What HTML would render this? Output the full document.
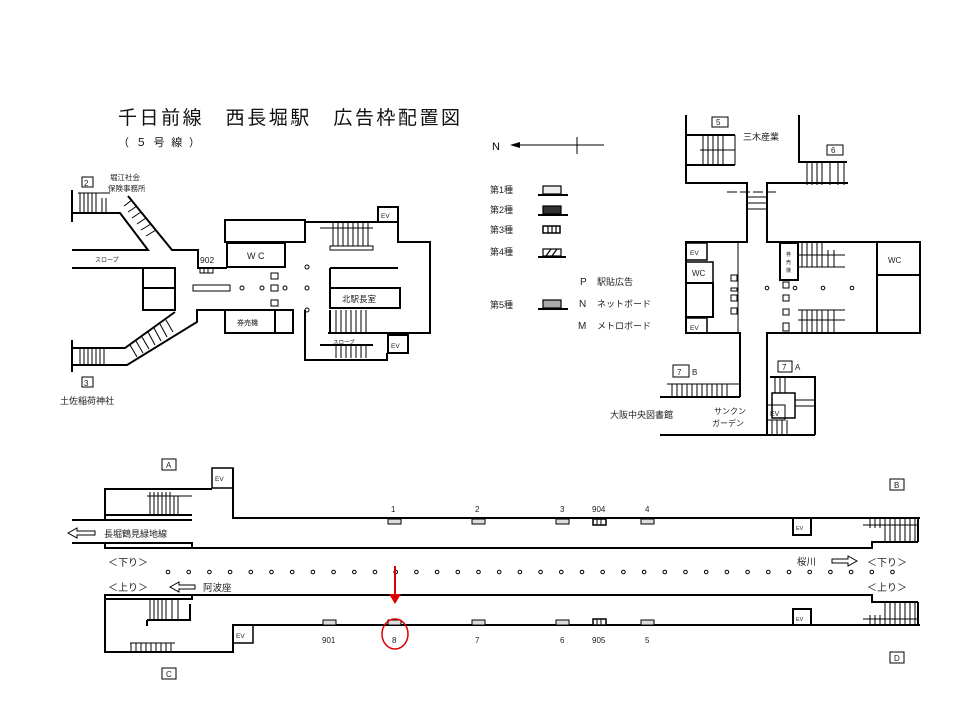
<!DOCTYPE html>
<html><head><meta charset="utf-8"><style>
html,body{margin:0;padding:0;background:#fff;}
svg{display:block;font-family:"Liberation Sans","Noto Sans CJK JP",sans-serif;}
</style></head><body>
<svg width="960" height="720" viewBox="0 0 960 720" xmlns="http://www.w3.org/2000/svg">
<rect width="960" height="720" fill="#fff"/>
<!-- Title -->
<text x="118" y="124" font-size="19" fill="#111" textLength="342" lengthAdjust="spacing">千日前線　西長堀駅　広告枠配置図</text>
<text x="118" y="146" font-size="11" fill="#111" textLength="82" lengthAdjust="spacing">（ ５ 号 線 ）</text>

<!-- Legend -->
<g stroke="#000" fill="none">
<line x1="512" y1="145" x2="604" y2="145" stroke-width="1"/>
<line x1="577" y1="137" x2="577" y2="154"/>
</g>
<polygon points="510,145 520,142 520,148" fill="#000"/>
<text x="492" y="150" font-size="11">N</text>
<g font-size="9" fill="#222">
<text x="490" y="193">第1種</text><text x="490" y="213">第2種</text><text x="490" y="233">第3種</text><text x="490" y="255">第4種</text><text x="490" y="308">第5種</text>
<text x="580" y="285" font-size="10">P</text><text x="597" y="285">駅貼広告</text>
<text x="579" y="307" font-size="10">N</text><text x="597" y="307">ネットボード</text>
<text x="578" y="329" font-size="10">M</text><text x="597" y="329">メトロボード</text>
</g>
<g stroke="#000" stroke-width="1.2">
<line x1="538" y1="195" x2="568" y2="195" stroke-width="2"/><rect x="543" y="186" width="18" height="8" fill="#eee"/>
<line x1="538" y1="215" x2="568" y2="215" stroke-width="2"/><rect x="543" y="206" width="18" height="8" fill="#333"/>
<rect x="543" y="226" width="17" height="7" fill="#fff" stroke-width="1.5"/><line x1="548" y1="226" x2="548" y2="233"/><line x1="552" y1="226" x2="552" y2="233"/><line x1="556" y1="226" x2="556" y2="233"/>
<line x1="538" y1="257" x2="566" y2="257" stroke-width="2"/><rect x="543" y="249" width="18" height="7" fill="#fff"/><line x1="546" y1="256" x2="551" y2="249"/><line x1="552" y1="256" x2="557" y2="249"/>
<line x1="538" y1="309" x2="568" y2="309" stroke-width="2"/><rect x="543" y="300" width="18" height="8" fill="#aaa"/>
</g>

<!-- Upper-left station -->
<g stroke="#000" stroke-width="2" fill="none">
<rect x="82" y="177" width="11" height="10" stroke-width="1"/>
<line x1="72" y1="190" x2="72" y2="222"/>
<polyline points="72,213 120,213 148,250 72,250"/>
<polyline points="128,196 172,250 198,250 198,268 227,268"/>
<line x1="72" y1="268" x2="175" y2="268"/>
<rect x="143" y="268" width="32" height="42"/><line x1="143" y1="288" x2="175" y2="288"/>
<polyline points="72,348 125,348 175,312"/>
<polyline points="72,365 127,365 197,322 197,310 227,310"/>
<line x1="72" y1="340" x2="72" y2="372"/>
<rect x="82" y="377" width="11" height="10" stroke-width="1"/>
<rect x="225" y="220" width="80" height="22"/>
<rect x="227" y="243" width="58" height="24"/>
<polyline points="305,220 305,222 378,222"/>
<rect x="378" y="207" width="20" height="15"/>
<polyline points="398,222 398,242 430,242 430,333 328,333"/>
<polyline points="330,268 398,268"/>
<line x1="330" y1="268" x2="330" y2="288"/>
<rect x="330" y="288" width="70" height="20"/>
<rect x="225" y="310" width="68" height="23"/><line x1="275" y1="310" x2="275" y2="333"/>
<polyline points="305,310 305,360 387,360 387,353"/>
<rect x="388" y="335" width="20" height="18"/>
<line x1="320" y1="345" x2="373" y2="345"/>
<line x1="330" y1="333" x2="330" y2="310"/>
</g>
<g stroke="#000" stroke-width="1" fill="none">
<line x1="78" y1="193" x2="110" y2="193"/>
<line x1="80" y1="193" x2="80" y2="213"/><line x1="84" y1="193" x2="84" y2="213"/><line x1="88" y1="193" x2="88" y2="213"/><line x1="92" y1="193" x2="92" y2="213"/><line x1="96" y1="193" x2="96" y2="213"/><line x1="102" y1="198" x2="102" y2="213"/><line x1="106" y1="198" x2="106" y2="213"/>
<line x1="124" y1="206" x2="132" y2="200"/><line x1="128" y1="212" x2="137" y2="206"/><line x1="132" y1="218" x2="141" y2="212"/><line x1="137" y1="224" x2="146" y2="218"/><line x1="141" y1="230" x2="151" y2="224"/><line x1="146" y1="236" x2="156" y2="230"/>
<line x1="80" y1="348" x2="80" y2="365"/><line x1="84" y1="348" x2="84" y2="365"/><line x1="88" y1="348" x2="88" y2="365"/><line x1="92" y1="348" x2="92" y2="365"/><line x1="96" y1="348" x2="96" y2="365"/><line x1="100" y1="348" x2="100" y2="365"/><line x1="104" y1="348" x2="104" y2="365"/>
<line x1="130" y1="345" x2="137" y2="357"/><line x1="136" y1="341" x2="143" y2="353"/><line x1="142" y1="337" x2="149" y2="349"/><line x1="148" y1="332" x2="155" y2="345"/><line x1="154" y1="328" x2="161" y2="341"/><line x1="160" y1="324" x2="167" y2="337"/><line x1="166" y1="320" x2="173" y2="332"/>
<rect x="200" y="268" width="13" height="5"/><line x1="204" y1="268" x2="204" y2="273"/><line x1="208" y1="268" x2="208" y2="273"/>
<rect x="193" y="285" width="37" height="6"/>
<rect x="271" y="273" width="7" height="6"/><rect x="271" y="285" width="7" height="6"/><rect x="271" y="300" width="7" height="6"/>
<circle cx="242" cy="288" r="2"/><circle cx="262" cy="288" r="2"/><circle cx="285" cy="288" r="2"/><circle cx="307" cy="267" r="2"/><circle cx="307" cy="288" r="2"/><circle cx="307" cy="310" r="2"/>
<line x1="320" y1="228" x2="373" y2="228"/><rect x="330" y="246" width="43" height="4"/>
<line x1="333" y1="223" x2="333" y2="246"/><line x1="338" y1="223" x2="338" y2="246"/><line x1="343" y1="223" x2="343" y2="246"/><line x1="348" y1="223" x2="348" y2="246"/><line x1="353" y1="223" x2="353" y2="246"/><line x1="358" y1="223" x2="358" y2="246"/><line x1="363" y1="223" x2="363" y2="246"/><line x1="368" y1="223" x2="368" y2="246"/>
<line x1="336" y1="310" x2="336" y2="333"/><line x1="341" y1="310" x2="341" y2="333"/><line x1="346" y1="310" x2="346" y2="333"/><line x1="351" y1="310" x2="351" y2="333"/><line x1="356" y1="310" x2="356" y2="333"/><line x1="361" y1="310" x2="361" y2="333"/><line x1="366" y1="310" x2="366" y2="333"/>
<line x1="336" y1="346" x2="336" y2="358"/><line x1="341" y1="346" x2="341" y2="358"/><line x1="346" y1="346" x2="346" y2="358"/><line x1="351" y1="346" x2="351" y2="358"/><line x1="356" y1="346" x2="356" y2="358"/><line x1="361" y1="346" x2="361" y2="358"/><line x1="366" y1="346" x2="366" y2="358"/>
</g>
<g font-size="8" fill="#222">
<text x="84" y="186">2</text><text x="84" y="386">3</text>
<text x="110" y="180" font-size="7.5">堀江社会</text><text x="108" y="191" font-size="7.5">保険事務所</text>
<text x="95" y="262" font-size="6">スロープ</text>
<text x="200" y="263" font-size="8.5">902</text>
<text x="247" y="259" font-size="9">W C</text>
<text x="342" y="302" font-size="8.5">北駅長室</text>
<text x="237" y="325" font-size="7">券売機</text>
<text x="381" y="218" font-size="6.5">EV</text><text x="391" y="348" font-size="6.5">EV</text>
<text x="333" y="344" font-size="5.5">スロープ</text>
<text x="60" y="404" font-size="9">土佐稲荷神社</text>
</g>

<!-- Right station -->
<g stroke="#000" stroke-width="2" fill="none">
<polyline points="686,115 686,183 747,183 747,242 686,242 686,333 740,333 740,397"/>
<polyline points="799,115 799,162 847,162"/>
<polyline points="848,183 767,183 767,242 920,242 920,333 767,333 767,435"/>
<line x1="877" y1="242" x2="877" y2="333"/><line x1="877" y1="275" x2="920" y2="275"/>
<line x1="686" y1="135" x2="735" y2="135"/><line x1="686" y1="165" x2="735" y2="165"/>
<rect x="686" y="243" width="21" height="17" stroke-width="1.5"/>
<rect x="686" y="262" width="27" height="21" stroke-width="1.5"/>
<rect x="686" y="283" width="27" height="34"/>
<rect x="686" y="318" width="21" height="15" stroke-width="1.5"/>
<rect x="780" y="243" width="18" height="37"/>
<polyline points="660,397 740,397"/>
<polyline points="770,377 815,377 815,435"/>
<line x1="660" y1="435" x2="815" y2="435"/>
<rect x="772" y="393" width="23" height="25" stroke-width="1.5"/>
</g>
<g stroke="#000" stroke-width="1" fill="none">
<rect x="712" y="117" width="16" height="10"/><rect x="827" y="145" width="16" height="10"/>
<line x1="703" y1="135" x2="703" y2="165"/><line x1="708" y1="135" x2="708" y2="165"/><line x1="713" y1="135" x2="713" y2="165"/><line x1="718" y1="135" x2="718" y2="165"/><line x1="723" y1="135" x2="723" y2="165"/><line x1="735" y1="135" x2="735" y2="165"/><line x1="700" y1="150" x2="735" y2="150"/>
<line x1="807" y1="162" x2="807" y2="185"/><line x1="812" y1="162" x2="812" y2="185"/><line x1="817" y1="162" x2="817" y2="185"/><line x1="822" y1="162" x2="822" y2="185"/><line x1="830" y1="162" x2="830" y2="185"/><line x1="838" y1="162" x2="838" y2="185"/><line x1="844" y1="162" x2="844" y2="185"/>
<line x1="727" y1="192" x2="778" y2="192" stroke-dasharray="10,3"/>
<line x1="747" y1="197" x2="767" y2="197"/><line x1="747" y1="203" x2="767" y2="203"/><line x1="747" y1="209" x2="767" y2="209"/>
<line x1="738" y1="242" x2="738" y2="333"/>
<rect x="731" y="275" width="6" height="6"/><rect x="731" y="288" width="6" height="3"/><rect x="731" y="295" width="6" height="6"/><rect x="731" y="308" width="6" height="6"/>
<rect x="783" y="282" width="6" height="6"/><rect x="783" y="295" width="6" height="6"/><rect x="783" y="309" width="6" height="6"/><rect x="783" y="323" width="6" height="8"/>
<circle cx="767" cy="288" r="1.8"/><circle cx="795" cy="288" r="1.8"/><circle cx="823" cy="288" r="1.8"/><circle cx="852" cy="288" r="1.8"/>
<line x1="798" y1="267" x2="845" y2="267"/><line x1="798" y1="255" x2="845" y2="255"/>
<line x1="802" y1="243" x2="802" y2="267"/><line x1="807" y1="243" x2="807" y2="267"/><line x1="812" y1="243" x2="812" y2="267"/><line x1="817" y1="243" x2="817" y2="267"/><line x1="822" y1="243" x2="822" y2="267"/><line x1="828" y1="250" x2="828" y2="267"/><line x1="834" y1="250" x2="834" y2="267"/>
<line x1="798" y1="310" x2="845" y2="310"/><line x1="798" y1="320" x2="845" y2="320"/>
<line x1="802" y1="310" x2="802" y2="333"/><line x1="807" y1="310" x2="807" y2="333"/><line x1="812" y1="310" x2="812" y2="333"/><line x1="817" y1="310" x2="817" y2="333"/><line x1="822" y1="310" x2="822" y2="333"/><line x1="828" y1="310" x2="828" y2="333"/><line x1="834" y1="310" x2="834" y2="333"/>
<rect x="673" y="365" width="16" height="12"/><rect x="778" y="361" width="14" height="11"/>
<line x1="667" y1="384" x2="740" y2="384"/>
<line x1="672" y1="384" x2="672" y2="397"/><line x1="677" y1="384" x2="677" y2="397"/><line x1="682" y1="384" x2="682" y2="397"/><line x1="687" y1="384" x2="687" y2="397"/><line x1="692" y1="384" x2="692" y2="397"/><line x1="697" y1="384" x2="697" y2="397"/><line x1="702" y1="384" x2="702" y2="397"/><line x1="707" y1="384" x2="707" y2="397"/><line x1="712" y1="384" x2="712" y2="397"/><line x1="717" y1="384" x2="717" y2="397"/><line x1="722" y1="384" x2="722" y2="397"/><line x1="727" y1="384" x2="727" y2="397"/>
<rect x="767" y="405" width="18" height="15"/>
<line x1="775" y1="377" x2="775" y2="393"/><line x1="780" y1="377" x2="780" y2="393"/><line x1="785" y1="377" x2="785" y2="393"/>
<line x1="795" y1="400" x2="815" y2="400"/><line x1="795" y1="406" x2="815" y2="406"/>
<line x1="772" y1="420" x2="772" y2="435"/><line x1="777" y1="420" x2="777" y2="435"/><line x1="782" y1="420" x2="782" y2="435"/><line x1="787" y1="420" x2="787" y2="435"/>
</g>
<g font-size="8" fill="#222">
<text x="716" y="125">5</text><text x="831" y="153">6</text>
<text x="743" y="140" font-size="9">三木産業</text>
<text x="690" y="255" font-size="6.5">EV</text><text x="692" y="276" font-size="8">WC</text><text x="690" y="330" font-size="6.5">EV</text>
<text x="888" y="263" font-size="8">WC</text>
<text x="786" y="256" font-size="5">券</text><text x="786" y="264" font-size="5">売</text><text x="786" y="272" font-size="5">機</text>
<text x="677" y="375">7</text><text x="692" y="375">B</text>
<text x="782" y="370">7</text><text x="795" y="370">A</text>
<text x="770" y="416" font-size="7">EV</text>
<text x="610" y="418" font-size="9">大阪中央図書館</text>
<text x="714" y="414" font-size="8">サンクン</text><text x="712" y="426" font-size="8">ガーデン</text>
</g>

<!-- Bottom platform -->
<g stroke="#000" stroke-width="2" fill="none">
<polyline points="233,468 233,518 920,518"/>
<rect x="212" y="468" width="21" height="20" stroke-width="1.5"/>
<polyline points="212,489 105,489 105,520"/>
<line x1="72" y1="520" x2="192" y2="520"/>
<line x1="105" y1="515" x2="192" y2="515"/>
<rect x="105" y="543" width="87" height="5"/>
<line x1="72" y1="543" x2="105" y2="543"/>
<polyline points="192,548 872,548 872,542 918,542"/>
<polyline points="192,595 872,595 872,602 918,602"/>
<rect x="105" y="595" width="87" height="4"/>
<polyline points="105,599 105,652 233,652 233,625 920,625"/>
<rect x="233" y="625" width="20" height="18" stroke-width="1.5"/>
<polyline points="147,620 190,620 190,604"/>
<line x1="147" y1="620" x2="147" y2="626"/>
<polyline points="793,518 793,535 811,535 811,518"/>
<polyline points="793,625 793,609 811,609 811,625"/>
</g>
<g stroke="#000" stroke-width="1" fill="none">
<rect x="162" y="459" width="14" height="11"/><rect x="162" y="668" width="14" height="11"/>
<rect x="890" y="479" width="14" height="11"/><rect x="890" y="652" width="14" height="11"/>
<line x1="150" y1="492" x2="150" y2="515"/><line x1="154" y1="492" x2="154" y2="515"/><line x1="158" y1="492" x2="158" y2="515"/><line x1="162" y1="492" x2="162" y2="515"/><line x1="166" y1="492" x2="166" y2="515"/><line x1="170" y1="492" x2="170" y2="515"/><line x1="174" y1="496" x2="174" y2="515"/><line x1="178" y1="496" x2="178" y2="515"/><line x1="147" y1="496" x2="192" y2="496"/>
<line x1="150" y1="600" x2="150" y2="620"/><line x1="154" y1="600" x2="154" y2="620"/><line x1="158" y1="600" x2="158" y2="620"/><line x1="162" y1="600" x2="162" y2="620"/><line x1="166" y1="600" x2="166" y2="620"/><line x1="172" y1="600" x2="172" y2="620"/><line x1="178" y1="600" x2="178" y2="620"/>
<line x1="130" y1="643" x2="175" y2="643"/>
<line x1="131" y1="643" x2="131" y2="652"/><line x1="136" y1="643" x2="136" y2="652"/><line x1="141" y1="643" x2="141" y2="652"/><line x1="146" y1="643" x2="146" y2="652"/><line x1="151" y1="643" x2="151" y2="652"/><line x1="156" y1="643" x2="156" y2="652"/><line x1="161" y1="643" x2="161" y2="652"/><line x1="166" y1="643" x2="166" y2="652"/><line x1="171" y1="643" x2="171" y2="652"/>
<line x1="863" y1="525" x2="918" y2="525"/><line x1="863" y1="619" x2="918" y2="619"/>
<g>
<line x1="870" y1="518" x2="870" y2="528"/><line x1="875" y1="518" x2="875" y2="528"/><line x1="880" y1="518" x2="880" y2="528"/><line x1="885" y1="518" x2="885" y2="542"/><line x1="890" y1="518" x2="890" y2="542"/><line x1="895" y1="518" x2="895" y2="542"/><line x1="900" y1="518" x2="900" y2="542"/><line x1="905" y1="518" x2="905" y2="542"/><line x1="910" y1="518" x2="910" y2="542"/><line x1="915" y1="518" x2="915" y2="542"/><line x1="918" y1="518" x2="918" y2="542" stroke-width="2"/>
<line x1="870" y1="615" x2="870" y2="625"/><line x1="875" y1="615" x2="875" y2="625"/><line x1="880" y1="615" x2="880" y2="625"/><line x1="885" y1="602" x2="885" y2="625"/><line x1="890" y1="602" x2="890" y2="625"/><line x1="895" y1="602" x2="895" y2="625"/><line x1="900" y1="602" x2="900" y2="625"/><line x1="905" y1="602" x2="905" y2="625"/><line x1="910" y1="602" x2="910" y2="625"/><line x1="915" y1="602" x2="915" y2="625"/><line x1="918" y1="602" x2="918" y2="625" stroke-width="2"/>
</g>
<!-- ads upper -->
<rect x="388" y="519" width="13" height="5" fill="#ddd"/><rect x="472" y="519" width="13" height="5" fill="#ddd"/><rect x="556" y="519" width="13" height="5" fill="#ddd"/><rect x="641" y="519" width="13" height="5" fill="#ddd"/>
<rect x="593" y="519" width="13" height="6" fill="#fff" stroke-width="1.5"/><line x1="597" y1="519" x2="597" y2="525"/><line x1="601" y1="519" x2="601" y2="525"/>
<!-- ads lower -->
<rect x="323" y="620" width="13" height="5" fill="#ddd"/><rect x="388" y="620" width="13" height="5" fill="#ddd"/><rect x="472" y="620" width="13" height="5" fill="#ddd"/><rect x="556" y="620" width="13" height="5" fill="#ddd"/><rect x="641" y="620" width="13" height="5" fill="#ddd"/>
<rect x="593" y="619" width="13" height="6" fill="#fff" stroke-width="1.5"/><line x1="597" y1="619" x2="597" y2="625"/><line x1="601" y1="619" x2="601" y2="625"/>
<!-- hollow arrows -->
<polygon points="68,533 77,528 77,531 95,531 95,535 77,535 77,538"/>
<polygon points="170,587 179,582 179,585 195,585 195,589 179,589 179,592"/>
<polygon points="857,561 848,556 848,559 832,559 832,563 848,563 848,566"/>
<!-- dots -->
<g>
<circle cx="168" cy="572" r="1.8"/><circle cx="188.7" cy="572" r="1.8"/><circle cx="209.4" cy="572" r="1.8"/><circle cx="230.1" cy="572" r="1.8"/><circle cx="250.8" cy="572" r="1.8"/><circle cx="271.5" cy="572" r="1.8"/><circle cx="292.2" cy="572" r="1.8"/><circle cx="312.9" cy="572" r="1.8"/><circle cx="333.6" cy="572" r="1.8"/><circle cx="354.3" cy="572" r="1.8"/><circle cx="375" cy="572" r="1.8"/><circle cx="395.7" cy="572" r="1.8"/><circle cx="416.4" cy="572" r="1.8"/><circle cx="437.1" cy="572" r="1.8"/><circle cx="457.8" cy="572" r="1.8"/><circle cx="478.5" cy="572" r="1.8"/><circle cx="499.2" cy="572" r="1.8"/><circle cx="519.9" cy="572" r="1.8"/><circle cx="540.6" cy="572" r="1.8"/><circle cx="561.3" cy="572" r="1.8"/><circle cx="582" cy="572" r="1.8"/><circle cx="602.7" cy="572" r="1.8"/><circle cx="623.4" cy="572" r="1.8"/><circle cx="644.1" cy="572" r="1.8"/><circle cx="664.8" cy="572" r="1.8"/><circle cx="685.5" cy="572" r="1.8"/><circle cx="706.2" cy="572" r="1.8"/><circle cx="726.9" cy="572" r="1.8"/><circle cx="747.6" cy="572" r="1.8"/><circle cx="768.3" cy="572" r="1.8"/><circle cx="789" cy="572" r="1.8"/><circle cx="809.7" cy="572" r="1.8"/><circle cx="830.4" cy="572" r="1.8"/><circle cx="851.1" cy="572" r="1.8"/><circle cx="871.8" cy="572" r="1.8"/><circle cx="892.5" cy="572" r="1.8"/>
</g>
</g>
<!-- red arrow & circle -->
<line x1="395" y1="566" x2="395" y2="597" stroke="#d00" stroke-width="2"/>
<polygon points="389,594 401,594 395,604" fill="#d00"/>
<ellipse cx="395" cy="634" rx="13" ry="15" fill="none" stroke="#d00" stroke-width="1.5"/>
<g font-size="8" fill="#222">
<text x="166" y="468">A</text><text x="166" y="677">C</text><text x="894" y="488">B</text><text x="894" y="661">D</text>
<text x="215" y="481" font-size="6.5">EV</text><text x="236" y="638" font-size="6.5">EV</text>
<text x="796" y="530" font-size="5.5">EV</text><text x="796" y="621" font-size="5.5">EV</text>
<text x="391" y="512">1</text><text x="475" y="512">2</text><text x="560" y="512">3</text><text x="592" y="512">904</text><text x="645" y="512">4</text>
<text x="322" y="643">901</text><text x="392" y="643">8</text><text x="475" y="643">7</text><text x="560" y="643">6</text><text x="592" y="643">905</text><text x="645" y="643">5</text>
<text x="104" y="537" font-size="9">長堀鶴見緑地線</text>
<text x="108" y="566" font-size="10">＜下り＞</text>
<text x="108" y="591" font-size="10">＜上り＞</text>
<text x="203" y="591" font-size="9.5">阿波座</text>
<text x="797" y="565" font-size="9.5">桜川</text>
<text x="867" y="566" font-size="10">＜下り＞</text>
<text x="867" y="591" font-size="10">＜上り＞</text>
</g>
</svg>
</body></html>
